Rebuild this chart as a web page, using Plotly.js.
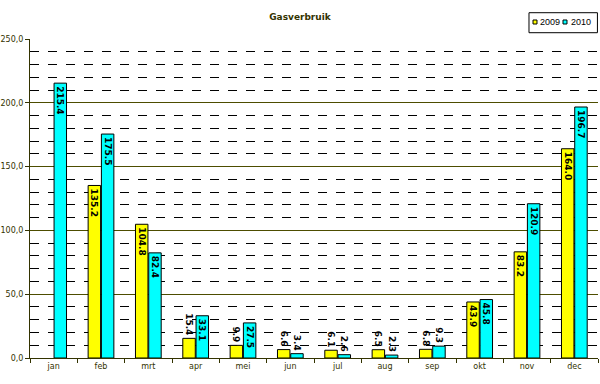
<!DOCTYPE html>
<html>
<head>
<meta charset="utf-8">
<script src="https://cdn.plot.ly/plotly-3.0.1.min.js"></script>
<style>html,body{margin:0;padding:0;background:#fff;}#chart{width:600px;height:384px;}</style>
</head>
<body>
<div id="chart"></div>
<script>
const months = ['jan','feb','mrt','apr','mei','jun','jul','aug','sep','okt','nov','dec'];
const gas2009 = [null,135.2,104.8,15.4,9.9,6.6,6.1,6.5,6.8,43.9,83.2,164.0];
const gas2010 = [215.4,175.5,82.4,33.1,27.5,3.4,2.6,2.3,9.3,45.8,120.9,196.7];
const yTicks = [0,50,100,150,200,250];
const seriesNames = ['2009','2010'];
const seriesColors = ['#FFFF00','#00FFFF'];

function labels(arr){ return arr.map(v => v == null ? '' : v.toFixed(1)); }
function positions(arr){ return arr.map(v => (v != null && v < 22) ? 'outside' : 'inside'); }

const textFont = {family:'DejaVu Sans', size:9, color:'#000', weight:'bold'};
const series = [gas2009, gas2010];
const traces = series.map((vals, i) => ({
  type:'bar', name:seriesNames[i], x:months, y:vals, text:labels(vals),
  textposition:positions(vals), insidetextanchor:'end', textangle:90, constraintext:'none',
  cliponaxis:false, textfont:textFont, showlegend:false,
  marker:{color:seriesColors[i], line:{color:'#000', width:1}}
}));

// custom compact legend (Excel style)
const legFont = {family:'Liberation Sans', size:9, color:'#000'};
const shapes = [
  {type:'rect', xref:'paper', yref:'paper', x0:0.8785, x1:0.999, y0:1.0197, y1:1.0824,
   line:{color:'#000', width:1}, fillcolor:'#fff'},
  {type:'rect', xref:'paper', yref:'paper', x0:0.8856, x1:0.8926, y0:1.047, y1:1.0596,
   line:{color:'#000', width:1}, fillcolor:seriesColors[0]},
  {type:'rect', xref:'paper', yref:'paper', x0:0.9384, x1:0.9454, y0:1.047, y1:1.0596,
   line:{color:'#000', width:1}, fillcolor:seriesColors[1]}
];
const annotations = [
  {xref:'paper', yref:'paper', x:0.8965, y:1.0533, xanchor:'left', yanchor:'middle',
   text:seriesNames[0], showarrow:false, font:legFont, borderpad:0},
  {xref:'paper', yref:'paper', x:0.9500, y:1.0533, xanchor:'left', yanchor:'middle',
   text:seriesNames[1], showarrow:false, font:legFont, borderpad:0}
];

const layout = {
  width:600, height:384,
  margin:{l:30, r:2, t:39, b:26},
  paper_bgcolor:'#fff', plot_bgcolor:'#fff',
  font:{family:'DejaVu Sans', size:8, color:'#333300'},
  separators:',.',
  title:{text:'<b>Gasverbruik</b>', x:0.5, xanchor:'center', y:0.955, yanchor:'middle',
         font:{family:'DejaVu Sans', size:9, color:'#333300'}},
  barmode:'group', bargap:0.44, bargroupgap:0.06,
  showlegend:false,
  shapes:shapes, annotations:annotations,
  xaxis:{type:'category', showline:true, linecolor:'#333300', linewidth:1,
         ticks:'outside', tickson:'boundaries', ticklen:4, tickcolor:'#333300',
         showgrid:false, tickfont:{size:8, color:'#333300'}},
  yaxis:{range:[0,250], tickvals:yTicks, tickformat:'.1f',
         showline:true, linecolor:'#333300', linewidth:1,
         ticks:'outside', ticklen:4, tickcolor:'#333300',
         showgrid:true, gridcolor:'#4d4d00', gridwidth:1,
         zeroline:false,
         minor:{dtick:10, showgrid:true, gridcolor:'#000', griddash:'dash', gridwidth:1},
         tickfont:{size:8, color:'#333300'}}
};

Plotly.newPlot('chart', traces, layout, {displayModeBar:false, staticPlot:true});
</script>
</body>
</html>
